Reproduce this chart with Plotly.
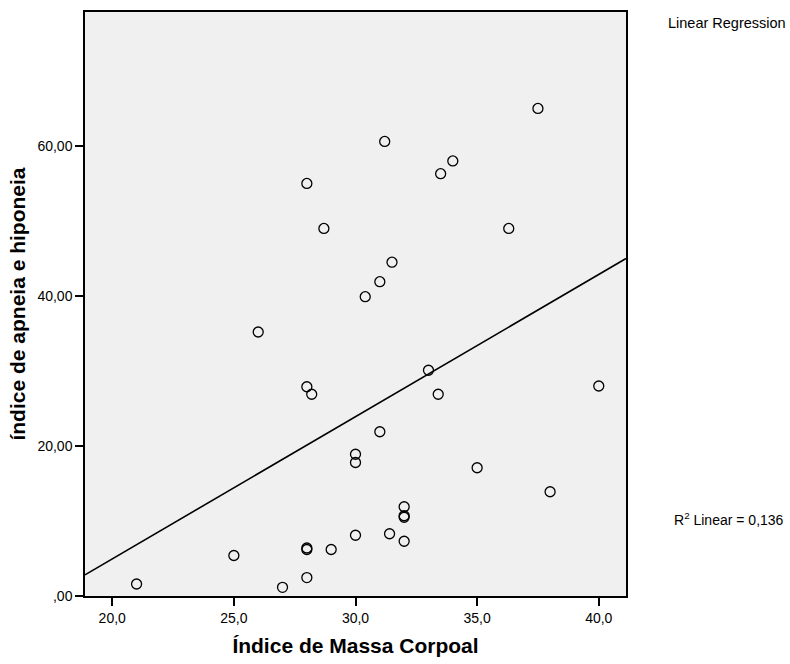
import numpy as np
import plotly.graph_objects as go

# Data
imc = [21.0, 25.0, 27.0, 28.0, 28.0, 28.0, 29.0, 30.0, 31.4, 32.0, 32.0, 32.0, 32.0,
       30.0, 30.0, 31.0, 35.0, 38.0, 26.0, 28.0, 28.2, 33.0, 33.4, 40.0, 30.4, 31.0,
       31.5, 28.7, 36.3, 28.0, 33.5, 34.0, 31.2, 37.5]
iah = [1.6, 5.4, 1.15, 2.45, 6.4, 6.2, 6.2, 8.1, 8.3, 7.3, 10.5, 10.7, 11.9,
       17.8, 18.9, 21.9, 17.1, 13.9, 35.2, 27.9, 26.9, 30.1, 26.9, 28.0, 39.9, 41.9,
       44.5, 49.0, 49.0, 55.0, 56.3, 58.0, 60.6, 65.0]

x_tickvals = [20, 25, 30, 35, 40]
x_ticktext = ["20,0", "25,0", "30,0", "35,0", "40,0"]
y_tickvals = [0, 20, 40, 60]
y_ticktext = [",00", "20,00", "40,00", "60,00"]

x_range = [18.88, 41.12]
y_range = [0, 77.86]

slope, intercept = np.polyfit(imc, iah, 1)
line_x = np.array(x_range)
line_y = slope * line_x + intercept

font = "Liberation Sans, Arial, sans-serif"

fig = go.Figure()
fig.add_trace(go.Scatter(
    x=imc, y=iah, mode="markers",
    marker=dict(symbol="circle-open", size=10, color="black", line=dict(color="black", width=1.3)),
    showlegend=False, hoverinfo="x+y"))
fig.add_trace(go.Scatter(
    x=line_x, y=line_y, mode="lines",
    line=dict(color="black", width=1.6), showlegend=False, hoverinfo="skip"))

fig.update_layout(
    width=790, height=664,
    margin=dict(l=85, r=164, t=10, b=67),
    paper_bgcolor="white", plot_bgcolor="#F0F0F0",
    font=dict(family=font, color="black", size=14),
    xaxis=dict(range=x_range, tickvals=x_tickvals, ticktext=x_ticktext,
               showgrid=False, zeroline=False, showline=True, mirror=True,
               linecolor="black", linewidth=1.5, ticks="outside", ticklen=8,
               tickwidth=1.5, tickcolor="black", tickfont=dict(size=14),
               title=dict(text="<b>Índice de Massa Corpoal</b>", font=dict(size=21), standoff=14)),
    yaxis=dict(range=y_range, tickvals=y_tickvals, ticktext=y_ticktext,
               showgrid=False, zeroline=False, showline=True, mirror=True,
               linecolor="black", linewidth=1.5, ticks="outside", ticklen=8,
               tickwidth=1.5, tickcolor="black", tickfont=dict(size=14),
               title=dict(text="<b>índice de apneia e hiponeia</b>", font=dict(size=21), standoff=6)),
    annotations=[
        dict(text="Linear Regression", xref="paper", yref="paper", x=1.0, y=1.0,
             xshift=40, yshift=-1, xanchor="left", yanchor="top", showarrow=False,
             font=dict(size=14.5)),
        dict(text="R<sup>2</sup> Linear = 0,136", xref="paper", yref="paper",
             x=1.0, y=(597 - 520) / (597 - 10), xshift=46, xanchor="left",
             yanchor="middle", showarrow=False, font=dict(size=14)),
    ],
)

fig.write_html("out.html", post_script="document.body.style.margin='0';",
               config={"displayModeBar": False})
